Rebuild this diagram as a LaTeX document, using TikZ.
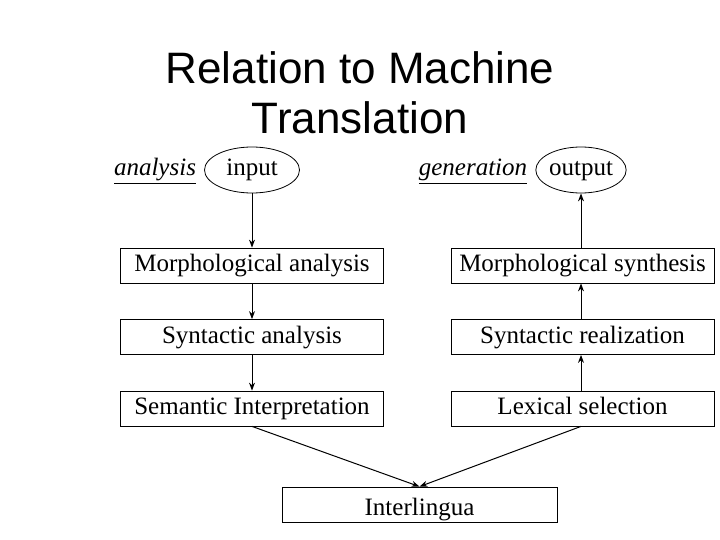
\documentclass[tikz,border=0pt]{standalone}
\usepackage{fontspec}
\setmainfont{Liberation Serif}
\newfontfamily\titlefont{Liberation Sans}
\usetikzlibrary{arrows.meta,shapes.geometric}
\begin{document}
\begin{tikzpicture}[x=1pt,y=-1pt,
  txt/.style={font=\fontsize{25}{28}\selectfont,text height=17pt,text depth=5pt},
  box/.style={txt,draw,line width=0.8pt,minimum width=263pt,minimum height=35pt,inner sep=0pt},
  ell/.style={txt,draw,ellipse,line width=0.8pt,minimum width=#1,minimum height=46pt,inner sep=0pt},
  lbl/.style={txt,font=\fontsize{25}{28}\selectfont\itshape},
  arr/.style={-{Stealth[length=8pt,width=6pt]},line width=1pt}]
\useasboundingbox (0,0) rectangle (720,540);
\node[font=\titlefont\fontsize{44}{50}\selectfont,align=center] (title) at (360,93) {Relation to Machine\\Translation};
\node[lbl] (an) at (155,170) {\underline{analysis}};
\node[ell=95pt] (in) at (252,170) {input};
\node[lbl] (gen) at (473,170) {\underline{generation}};
\node[ell=90pt] (out) at (581,170) {output};
\node[box] (ma) at (252,265.5) {Morphological analysis};
\node[box] (sa) at (252,337) {Syntactic analysis};
\node[box] (si) at (252,408.5) {Semantic Interpretation};
\node[box] (ms) at (582.5,265.5) {Morphological synthesis};
\node[box] (sr) at (582.5,337) {Syntactic realization};
\node[box] (ls) at (582.5,408.5) {Lexical selection};
\node[box,minimum width=275pt,text height=22pt,text depth=0pt] (il) at (419.5,504.5) {Interlingua};
\draw[arr] (in.south) -- (ma.north);
\draw[arr] (ma.south) -- (sa.north);
\draw[arr] (sa.south) -- (si.north);
\draw[arr] (ls.north -| out) -- (sr.south -| out);
\draw[arr] (sr.north -| out) -- (ms.south -| out);
\draw[arr] (ms.north -| out) -- (out.south);
\draw[arr] (si.south) -- (il.north);
\draw[arr] (ls.south -| out) -- (il.north);
\end{tikzpicture}
\end{document}
